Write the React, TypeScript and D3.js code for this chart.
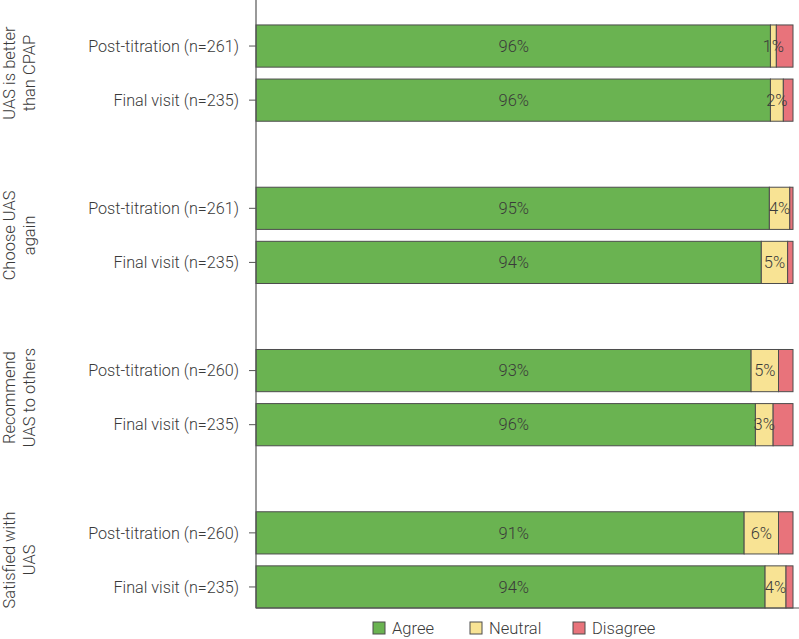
import React from "react";
import * as d3 from "d3";

const groups = [
  ["UAS is better", "than CPAP"],
  ["Choose UAS", "again"],
  ["Recommend", "UAS to others"],
  ["Satisfied with", "UAS"],
];
const rowLabels = [
  "Post-titration (n=261)",
  "Final visit (n=235)",
  "Post-titration (n=261)",
  "Final visit (n=235)",
  "Post-titration (n=260)",
  "Final visit (n=235)",
  "Post-titration (n=260)",
  "Final visit (n=235)",
];
const rowGroup = [0, 0, 1, 1, 2, 2, 3, 3];
const rowSlot = [0, 1, 3, 4, 6, 7, 9, 10];
const agree = [95.8, 95.8, 95.6, 94.1, 92.2, 93.0, 90.9, 94.8];
const neutral = [1.1, 2.4, 3.8, 4.9, 5.1, 3.3, 6.4, 3.9];
const disagree = [3.1, 1.8, 0.6, 1.0, 2.7, 3.7, 2.7, 1.3];
const agreeLabels = ["96%", "96%", "95%", "94%", "93%", "96%", "91%", "94%"];
const neutralLabels = ["1%", "2%", "4%", "5%", "5%", "3%", "6%", "4%"];
const seriesNames = ["Agree", "Neutral", "Disagree"];
const colors = ["#6ab351", "#f8e394", "#e8737b"];

const W = 799;
const H = 639;
const FONT = "Roboto, 'DejaVu Sans', sans-serif";

export default function App() {
  const x = d3.scaleLinear().domain([0, 100]).range([256, 793]);
  const slots = d3.range(11).map(String);
  const y = d3.scaleBand<string>().domain(slots).range([19, 614]).paddingInner(0.22).paddingOuter(0.11);
  const bw = y.bandwidth();

  const rows = rowLabels.map((lab, i) => {
    const vals = [agree[i], neutral[i], disagree[i]];
    const stacks: { x0: number; x1: number; c: string }[] = [];
    let acc = 0;
    vals.forEach((v, k) => {
      stacks.push({ x0: acc, x1: acc + v, c: colors[k] });
      acc += v;
    });
    return { lab, y0: y(String(rowSlot[i]))!, stacks, i };
  });

  const groupCenters = groups.map((g, gi) => {
    const idx = rowGroup.map((gg, i) => (gg === gi ? i : -1)).filter((v) => v >= 0);
    const ys = idx.map((i) => y(String(rowSlot[i]))! + bw / 2);
    return d3.mean(ys)!;
  });

  const legendX = [373, 470, 573];

  return (
    <svg width={W} height={H} style={{ position: "absolute", left: 0, top: 0, background: "#fff" }} fontFamily={FONT} fontWeight={300}>
      {rows.map((r) => (
        <g key={r.i}>
          {r.stacks.map((s, k) => (
            <rect
              key={k}
              x={x(s.x0)}
              y={r.y0}
              width={x(s.x1) - x(s.x0)}
              height={bw}
              fill={s.c}
              stroke="#4d4d4d"
              strokeWidth={1}
            />
          ))}
          <text x={x(48)} y={r.y0 + bw / 2} dy="0.35em" textAnchor="middle" fontSize={16.5} fill="#3a3a3a">
            {agreeLabels[r.i]}
          </text>
          <text
            x={(x(r.stacks[1].x0) + x(r.stacks[1].x1)) / 2}
            y={r.y0 + bw / 2}
            dy="0.35em"
            textAnchor="middle"
            fontSize={16.5}
            fill="#3a3a3a"
          >
            {neutralLabels[r.i]}
          </text>
          <line x1={249} x2={256} y1={r.y0 + bw / 2} y2={r.y0 + bw / 2} stroke="#555" />
          <text x={239} y={r.y0 + bw / 2} dy="0.35em" textAnchor="end" fontSize={16.2} fill="#3a3a3a">
            {r.lab}
          </text>
        </g>
      ))}
      <line x1={256} x2={256} y1={0} y2={608} stroke="#555" strokeWidth={1.2} />
      <line x1={256} x2={799} y1={608} y2={608} stroke="#555" strokeWidth={1} />
      {groups.map((g, gi) => (
        <g key={gi} transform={`translate(0,${groupCenters[gi]}) rotate(-90)`}>
          {g.map((line, li) => (
            <text key={li} x={0} y={15 + li * 20} textAnchor="middle" fontSize={16.5} fill="#3a3a3a">
              {line}
            </text>
          ))}
        </g>
      ))}
      {seriesNames.map((n, k) => (
        <g key={n}>
          <rect x={legendX[k]} y={622} width={12} height={12} fill={colors[k]} stroke="#4d4d4d" />
          <text x={legendX[k] + 19} y={628} dy="0.35em" fontSize={16.5} fill="#3a3a3a">
            {n}
          </text>
        </g>
      ))}
    </svg>
  );
}
